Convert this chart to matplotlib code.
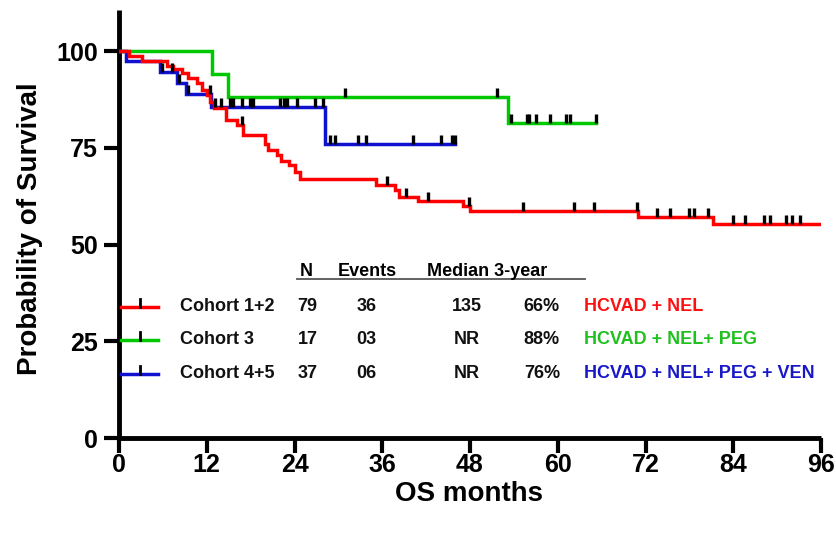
import numpy as np
import matplotlib
matplotlib.use('Agg')
import matplotlib.pyplot as plt

plt.rcParams['font.family'] = ['Liberation Sans', 'DejaVu Sans']
plt.rcParams['font.weight'] = 'bold'

# Kaplan-Meier steps (month of drop, survival % after drop)
red_t = [0, 1.4, 3.1, 6.5, 7.4, 8.6, 9.5, 10.6, 11.4, 12.0, 12.5, 13.0, 14.7, 16.1, 17.0,
         20.0, 20.4, 21.6, 22.2, 23.2, 24.1, 24.8, 35.2, 37.7, 38.3, 40.9, 47.1, 48.0, 71.0, 81.2]
red_s = [100, 98.7, 97.5, 96.2, 95.4, 94.2, 92.9, 91.7, 90.0, 88.6, 86.9, 85.2, 82.2, 80.9, 78.3,
         76.1, 74.4, 73.1, 71.7, 70.5, 68.8, 66.8, 65.4, 64.1, 62.4, 61.3, 59.9, 58.7, 57.2, 55.4]
red_end = 96.0
red_cens = [16.8, 36.6, 39.3, 42.2, 47.8, 55.3, 62.2, 64.9, 70.9, 73.6, 75.3, 78.0, 78.6, 80.6,
            83.9, 85.6, 88.2, 89.0, 91.2, 92.0, 93.1]

green_t = [0, 12.7, 14.9, 53.2]
green_s = [100, 94.1, 88.2, 81.5]
green_end = 65.2
green_cens = [30.9, 51.7, 53.6, 55.8, 56.1, 57.0, 59.0, 61.1, 61.7, 65.2]

blue_t = [0, 1.0, 5.6, 7.9, 9.2, 12.6, 28.2]
blue_s = [100, 97.3, 94.5, 91.8, 88.9, 85.6, 75.9]
blue_end = 46.0
blue_cens = [5.9, 7.2, 8.2, 9.5, 12.4, 13.1, 14.0, 15.2, 15.6, 16.8, 17.9, 18.3, 22.0, 22.5,
             23.0, 24.3, 26.8, 27.9, 28.9, 29.5, 32.7, 33.8, 40.2, 44.1, 45.5, 46.0]

# legend table
cohorts = ['Cohort 1+2', 'Cohort 3', 'Cohort 4+5']
n_pts = ['79', '17', '37']
events = ['36', '03', '06']
medians = ['135', 'NR', 'NR']
surv3 = ['66%', '88%', '76%']
regimens = ['HCVAD + NEL', 'HCVAD + NEL+ PEG', 'HCVAD + NEL+ PEG + VEN']

x_ticks = [0, 12, 24, 36, 48, 60, 72, 84, 96]
y_ticks = [0, 25, 50, 75, 100]

RED = '#ff0000'
GREEN = '#00c800'
BLUE = '#1010d0'
txt_colors = ['#ff1010', '#20c020', '#1818c8']

W, H = 836, 533
fig = plt.figure(figsize=(W / 100, H / 100), dpi=100)
ax = fig.add_axes([119 / W, 1 - 438 / H, 702 / W, 428 / H])


def px(x, y):
    # pixel position -> figure fraction
    return x / W, 1 - y / H


def km(ax, t, s, end, cens, color):
    tt = list(t) + [end]
    ss = list(s) + [s[-1]]
    ax.step(tt, ss, where='post', color=color, lw=2.5, solid_joinstyle='miter', zorder=3)
    idx = np.searchsorted(t, cens, side='right') - 1
    yc = np.array(s)[idx]
    ax.vlines(cens, yc, yc + 2.3, color='black', lw=2.4, zorder=4)


km(ax, green_t, green_s, green_end, green_cens, GREEN)
km(ax, blue_t, blue_s, blue_end, blue_cens, BLUE)
km(ax, red_t, red_s, red_end, red_cens, RED)

ax.set_xlim(0, 96)
ax.set_ylim(0, 110.6)
ax.set_xticks(x_ticks)
ax.set_yticks(y_ticks)
for sp in ['top', 'right']:
    ax.spines[sp].set_visible(False)
for sp in ['left', 'bottom']:
    ax.spines[sp].set_linewidth(3.5)
    ax.spines[sp].set_capstyle('butt')
ax.tick_params(axis='both', length=11, width=3, labelsize=18)
ax.tick_params(axis='x', pad=0)
ax.tick_params(axis='y', pad=4)
for lab in ax.get_xticklabels() + ax.get_yticklabels():
    lab.set_fontweight('bold')

fig.text(*px(30, 229), 'Probability of Survival', rotation=90, ha='center', va='center',
         fontsize=20, fontweight='bold')
fig.text(*px(469, 494), 'OS months', ha='center', va='center', fontsize=20, fontweight='bold')

# table header
hdr_y = 276
fig.text(*px(306, hdr_y), 'N', ha='center', va='baseline', fontsize=13)
fig.text(*px(367, hdr_y), 'Events', ha='center', va='baseline', fontsize=13)
fig.text(*px(427, hdr_y), 'Median 3-year', ha='left', va='baseline', fontsize=13)
fig.add_artist(plt.Line2D([297 / W, 585 / W], [1 - 279 / H] * 2, color='#555555', lw=1.3))

rows_y = [306.5, 340, 373.5]
line_colors = [RED, GREEN, BLUE]
for i, y in enumerate(rows_y):
    x0, yy = px(121, y)
    x1, _ = px(158, y)
    fig.add_artist(plt.Line2D([x0, x1], [yy, yy], color=line_colors[i], lw=2.5))
    xt, _ = px(140, y)
    _, yt = px(140, y - 8)
    fig.add_artist(plt.Line2D([xt, xt], [yy, yt], color='black', lw=2))
    fig.text(*px(180, y), cohorts[i], ha='left', va='center', fontsize=13, color='#111111')
    fig.text(*px(307.5, y), n_pts[i], ha='center', va='center', fontsize=13, color='#111111')
    fig.text(*px(366.5, y), events[i], ha='center', va='center', fontsize=13, color='#111111')
    fig.text(*px(466.5, y), medians[i], ha='center', va='center', fontsize=13, color='#111111')
    fig.text(*px(560, y), surv3[i], ha='right', va='center', fontsize=13, color='#111111')
    fig.text(*px(584, y), regimens[i], ha='left', va='center', fontsize=13, color=txt_colors[i])

fig.savefig('out.png', dpi=100)
